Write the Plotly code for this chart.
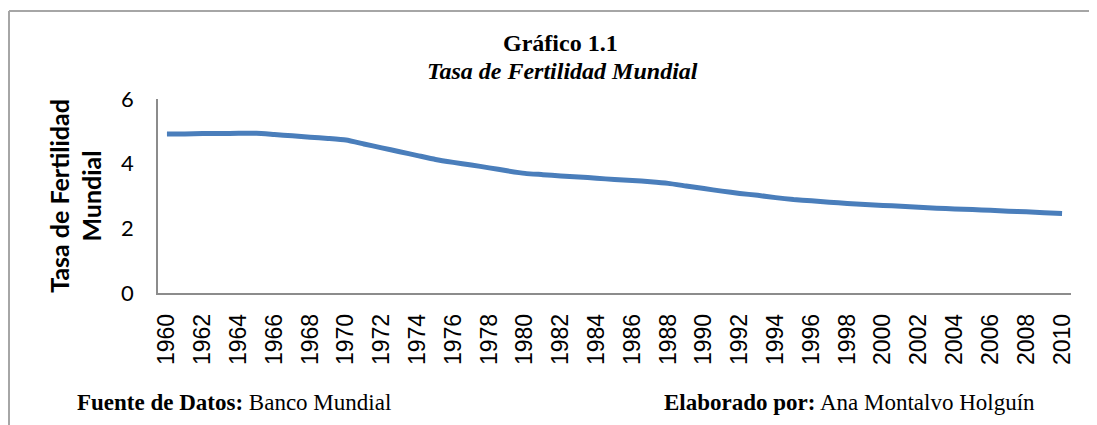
import plotly.graph_objects as go

years = [str(y) for y in range(1960, 2011)]
fertility = [4.92, 4.92, 4.93, 4.93, 4.94, 4.94, 4.90, 4.86, 4.82, 4.78,
             4.73, 4.61, 4.49, 4.37, 4.25, 4.13, 4.04, 3.96, 3.87, 3.78,
             3.70, 3.66, 3.62, 3.59, 3.55, 3.51, 3.48, 3.44, 3.39, 3.31,
             3.23, 3.15, 3.08, 3.02, 2.95, 2.89, 2.85, 2.81, 2.77, 2.74,
             2.71, 2.68, 2.65, 2.62, 2.60, 2.58, 2.56, 2.53, 2.51, 2.48,
             2.46]
tick_labels = years[::2]
y_ticks = [0, 2, 4, 6]

# the page body has an 8px margin; positions below are in window pixels
OFF = 8
W, H = 1097 - OFF, 425 - OFF
L, T = 158 - OFF, 99 - OFF
R = W - (1071 - OFF)
B = H - (293 - OFF)
PW, PH = W - L - R, H - T - B


def px(x):
    return (x - OFF - L) / PW


def py(y):
    return 1 - (y - OFF - T) / PH


fig = go.Figure()
fig.add_trace(go.Scatter(
    x=years, y=fertility, mode="lines",
    line=dict(color="#4a7ebb", width=5, shape="spline", smoothing=0.5),
    showlegend=False, hoverinfo="x+y"))

border = "#a6a6a6"
fig.update_layout(
    width=W, height=H,
    margin=dict(l=L, r=R, t=T, b=B, autoexpand=False),
    paper_bgcolor="white", plot_bgcolor="white",
    xaxis=dict(type="category", range=[-0.5, len(years) - 0.5],
               tickmode="array", tickvals=tick_labels, ticktext=tick_labels,
               tickangle=-90, showgrid=False, zeroline=False,
               showline=True, linecolor="#8c8c8c", linewidth=1.5,
               ticks="", ticklabelstandoff=10,
               tickfont=dict(family="Liberation Sans", size=23, color="black")),
    yaxis=dict(range=[0, 6], tickmode="array", tickvals=y_ticks,
               showgrid=False, zeroline=False,
               showline=True, linecolor="#8c8c8c", linewidth=1.5,
               ticks="", ticklabelstandoff=18,
               tickfont=dict(family="Lato", size=22, color="black"),
               title=dict(text="<b>Tasa de Fertilidad<br>Mundial</b>",
                          font=dict(family="Lato", size=25, color="black"),
                          standoff=12)),
    shapes=[
        dict(type="line", xref="paper", yref="paper",
             x0=px(9), x1=px(1100), y0=py(11), y1=py(11),
             line=dict(color=border, width=2)),
        dict(type="line", xref="paper", yref="paper",
             x0=px(9), x1=px(9), y0=py(11), y1=py(430),
             line=dict(color=border, width=2)),
    ],
    annotations=[
        dict(text="<b>Gráfico 1.1</b>", xref="paper", yref="paper",
             x=px(560), y=py(43), xanchor="center", yanchor="middle",
             showarrow=False,
             font=dict(family="Liberation Serif", size=24, color="black")),
        dict(text="<b><i>Tasa de Fertilidad Mundial</i></b>", xref="paper",
             yref="paper", x=px(562), y=py(71), xanchor="center",
             yanchor="middle", showarrow=False,
             font=dict(family="Liberation Serif", size=24, color="black")),
        dict(text="<b>Fuente de Datos:</b> Banco Mundial", xref="paper",
             yref="paper", x=px(75), y=py(402), xanchor="left",
             yanchor="middle", showarrow=False,
             font=dict(family="Liberation Serif", size=23, color="black")),
        dict(text="<b>Elaborado por:</b> Ana Montalvo Holguín", xref="paper",
             yref="paper", x=px(662), y=py(402), xanchor="left",
             yanchor="middle", showarrow=False,
             font=dict(family="Liberation Serif", size=23, color="black")),
    ],
)

fig.write_html("out.html")
